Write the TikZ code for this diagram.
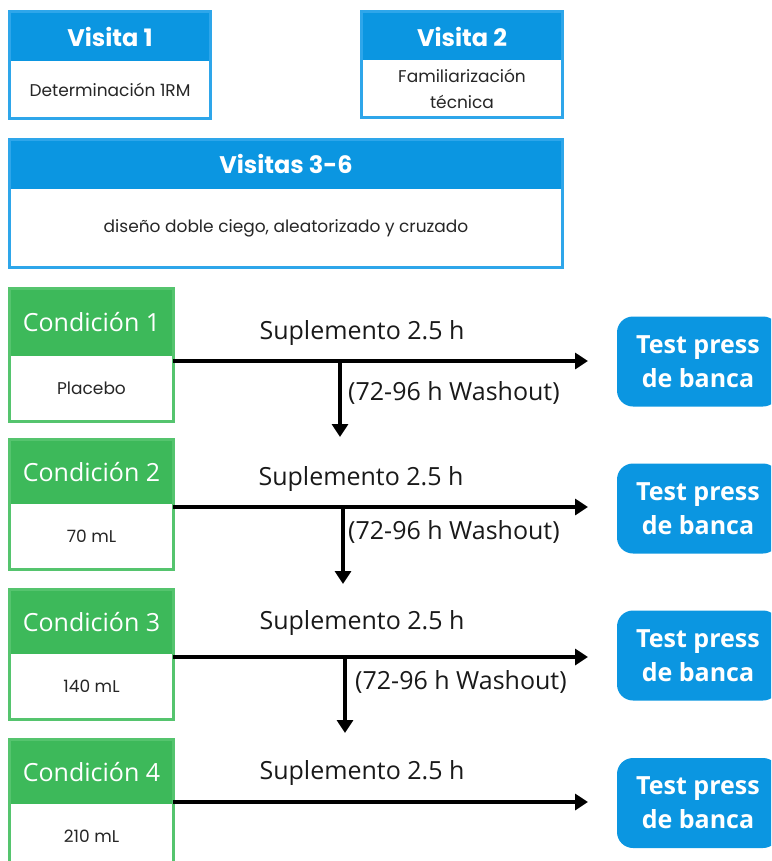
\documentclass[tikz,border=0pt]{standalone}
\usepackage{fontspec}
\setmainfont{Open Sans}
\newfontfamily\pop{Poppins}
\usetikzlibrary{arrows.meta}
\definecolor{vblue}{HTML}{0B96E1}
\definecolor{vblueb}{HTML}{2EA6EA}
\definecolor{cgreen}{HTML}{3DB95A}
\definecolor{cgreenb}{HTML}{55C46E}
\tikzset{
  hdr/.style={fill=vblue, text=white, inner sep=0pt, font=\pop\bfseries\fontsize{24}{26}\selectfont, align=center},
  bodyb/.style={fill=white, text=black!85, inner sep=0pt, font=\pop\fontsize{17}{26}\selectfont, align=center},
  frameb/.style={draw=vblueb, line width=3pt},
  chdr/.style={fill=cgreen, text=white, inner sep=0pt, minimum width=163pt, font=\fontsize{25}{27}\selectfont},
  cbody/.style={fill=white, text=black!85, inner sep=0pt, minimum width=163pt, font=\pop\fontsize{17}{18}\selectfont},
  frameg/.style={draw=cgreenb, line width=3pt},
  testb/.style={fill=vblue, text=white, rounded corners=16pt, minimum width=162pt, minimum height=90pt, inner sep=0pt, align=center, font=\bfseries\fontsize{25}{34}\selectfont},
  lab/.style={inner sep=0pt, font=\fontsize{25}{28}\selectfont, text=black!90},
  arr/.style={line width=4pt, -{Triangle[length=13pt,width=16pt]}},
}
\begin{document}
\begin{tikzpicture}[x=1pt,y=-1pt]
\useasboundingbox (0,0) rectangle (771,861);
\clip (0,0) rectangle (771,861);
% Visita 1
\node[hdr, minimum width=200pt, minimum height=49pt] (v1h) at (110,36.5) {Visita 1};
\node[bodyb, minimum width=200pt, minimum height=57pt] (v1b) at (110,89.5) {Determinación 1RM};
\draw[frameb] (v1h.north west) rectangle (v1b.south east);
% Visita 2
\node[hdr, minimum width=200pt, minimum height=49pt] (v2h) at (462,36.5) {Visita 2};
\node[bodyb, minimum width=200pt, minimum height=57pt] (v2b) at (462,88.5) {Familiarización\\técnica};
\draw[frameb] (v2h.north west) rectangle (v2b.south east);
% Visitas 3-6
\node[hdr, minimum width=552pt, minimum height=49pt] (v3h) at (286,164) {Visitas 3-6};
\node[bodyb, minimum width=552pt, minimum height=79pt] (v3b) at (286,228) {diseño doble ciego, aleatorizado y cruzado};
\draw[frameb] (v3h.north west) rectangle (v3b.south east);
% Conditions
\foreach \i/\t/\hb/\txt in {1/289/356/Placebo, 2/440/504/70 mL, 3/590/654/140 mL, 4/740/804/210 mL}{
  \pgfmathsetmacro{\hc}{(\t+\hb)/2}
  \pgfmathsetmacro{\hh}{\hb-\t}
  \pgfmathsetmacro{\bc}{\hb+32.5}
  \node[chdr, minimum height=\hh pt] (c\i h) at (91.5,\hc) {Condición \i};
  \node[cbody, minimum height=65pt] (c\i b) at (91.5,\bc) {\txt};
  \draw[frameg] (c\i h.north west) rectangle (c\i b.south east);
}
% Test boxes
\node[testb] (t1) at (698,361.5) {Test press\\de banca};
\node[testb] (t2) at (698,508.5) {Test press\\de banca};
\node[testb] (t3) at (698,655.5) {Test press\\de banca};
\node[testb] (t4) at (698,803) {Test press\\de banca};
% Arrows
\coordinate (s1) at (173,361); \coordinate (e1) at (588,361);
\coordinate (s2) at (173,507); \coordinate (e2) at (588,507);
\coordinate (s3) at (173,657); \coordinate (e3) at (588,657);
\coordinate (s4) at (173,802); \coordinate (e4) at (588,802);
\coordinate (w1) at (340,361); \coordinate (w1e) at (340,437);
\coordinate (w2) at (343,507); \coordinate (w2e) at (343,584);
\coordinate (w3) at (345,657); \coordinate (w3e) at (345,733);
\foreach \i in {1,2,3,4}{\draw[arr] (s\i) -- (e\i);}
\foreach \i in {1,2,3}{\draw[arr] (w\i) -- (w\i e);}
% Labels
\node[lab] (l1) at (362,333) {Suplemento 2.5 h};
\node[lab] (l2) at (361,479) {Suplemento 2.5 h};
\node[lab] (l3) at (362,623) {Suplemento 2.5 h};
\node[lab] (l4) at (362,773) {Suplemento 2.5 h};
\node[lab, anchor=west] (m1) at (348,393) {(72-96 h Washout)};
\node[lab, anchor=west] (m2) at (348,532) {(72-96 h Washout)};
\node[lab, anchor=west] (m3) at (355,682) {(72-96 h Washout)};
\end{tikzpicture}
\end{document}
